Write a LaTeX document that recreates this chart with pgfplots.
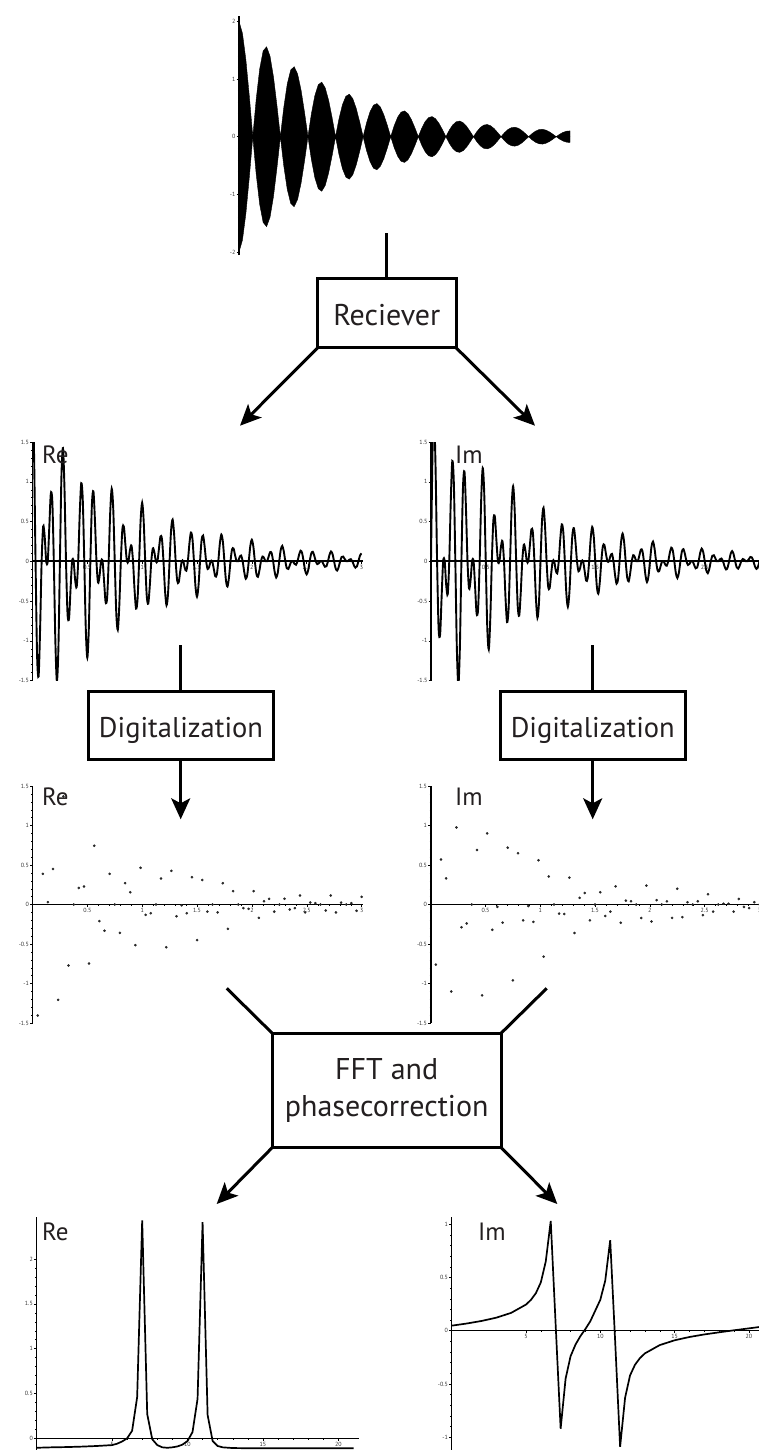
\documentclass[border=0pt]{standalone}
\usepackage{fontspec}
\setmainfont{PT Sans}
\usepackage{pgfplots}
\pgfplotsset{compat=1.18}
\usepackage{pgfplotstable}
\usetikzlibrary{arrows.meta}

\pgfplotstableread{
j e ne
0 2.000 -2.000
1 1.791 -1.791
2 1.329 -1.329
3 0.697 -0.697
4 0 0
5 0.655 -0.655
6 1.172 -1.172
7 1.485 -1.485
8 1.558 -1.558
9 1.395 -1.395
10 1.035 -1.035
11 0.543 -0.543
12 0 0
13 0.510 -0.510
14 0.913 -0.913
15 1.156 -1.156
16 1.213 -1.213
17 1.086 -1.086
18 0.806 -0.806
19 0.423 -0.423
20 0 0
21 0.397 -0.397
22 0.711 -0.711
23 0.901 -0.901
24 0.945 -0.945
25 0.846 -0.846
26 0.628 -0.628
27 0.329 -0.329
28 0 0
29 0.309 -0.309
30 0.554 -0.554
31 0.701 -0.701
32 0.736 -0.736
33 0.659 -0.659
34 0.489 -0.489
35 0.256 -0.256
36 0 0
37 0.241 -0.241
38 0.431 -0.431
39 0.546 -0.546
40 0.573 -0.573
41 0.513 -0.513
42 0.381 -0.381
43 0.200 -0.200
44 0 0
45 0.188 -0.188
46 0.336 -0.336
47 0.425 -0.425
48 0.446 -0.446
49 0.400 -0.400
50 0.296 -0.296
51 0.155 -0.155
52 0 0
53 0.146 -0.146
54 0.262 -0.262
55 0.331 -0.331
56 0.348 -0.348
57 0.311 -0.311
58 0.231 -0.231
59 0.121 -0.121
60 0 0
61 0.114 -0.114
62 0.204 -0.204
63 0.258 -0.258
64 0.271 -0.271
65 0.242 -0.242
66 0.180 -0.180
67 0.094 -0.094
68 0 0
69 0.089 -0.089
70 0.159 -0.159
71 0.201 -0.201
72 0.211 -0.211
73 0.189 -0.189
74 0.140 -0.140
75 0.073 -0.073
76 0 0
77 0.069 -0.069
78 0.124 -0.124
79 0.156 -0.156
80 0.164 -0.164
81 0.147 -0.147
82 0.109 -0.109
83 0.057 -0.057
84 0 0
85 0.054 -0.054
86 0.096 -0.096
87 0.122 -0.122
88 0.128 -0.128
89 0.114 -0.114
90 0.085 -0.085
91 0.045 -0.045
92 0 0
93 0.042 -0.042
94 0.075 -0.075
95 0.095 -0.095
96 0.100 -0.100
}\fid

\pgfplotstableread{
k re im
0 2.0 0
1 1.3736 1.3736
2 0 1.8279
3 -1.1748 1.1748
4 -1.4493 0
5 -0.8480 -0.8480
6 0 -0.9200
7 0.4389 -0.4389
8 0.3108 0
9 0 0
10 0 -0.3023
11 0.4151 -0.4151
12 0.8465 0
13 0.7589 0.7589
14 0 1.2613
15 -0.9944 0.9944
16 -1.5049 0
17 -1.0998 -1.0998
18 0 -1.5576
19 1.0697 -1.0697
20 1.4236 0
21 0.9149 0.9149
22 0 1.1287
23 -0.6604 0.6604
24 -0.7165 0
25 -0.3418 -0.3418
26 0 -0.2420
27 0 0
28 -0.2354 0
29 -0.3234 -0.3234
30 0 -0.6592
31 0.5910 -0.5910
32 0.9823 0
33 0.7744 0.7744
34 0 1.1720
35 -0.8565 0.8565
36 -1.2131 0
37 -0.8331 -0.8331
38 0 -1.1087
39 0.7126 -0.7126
40 0.8790 0
41 0.5143 0.5143
42 0 0.5580
43 -0.2662 0.2662
44 -0.1885 0
45 0 0
46 0 0.1833
47 -0.2518 0.2518
48 -0.5134 0
49 -0.4603 -0.4603
50 0 -0.7650
51 0.6032 -0.6032
52 0.9128 0
53 0.6671 0.6671
54 0 0.9447
55 -0.6488 0.6488
56 -0.8634 0
57 -0.5549 -0.5549
58 0 -0.6846
59 0.4006 -0.4006
60 0.4346 0
61 0.2073 0.2073
62 0 0.1468
63 0 0
64 0.1428 0
65 0.1961 0.1961
66 0 0.3999
67 -0.3584 0.3584
68 -0.5958 0
69 -0.4697 -0.4697
70 0 -0.7109
71 0.5195 -0.5195
72 0.7358 0
73 0.5053 0.5053
74 0 0.6724
75 -0.4322 0.4322
76 -0.5332 0
77 -0.3120 -0.3120
78 0 -0.3385
79 0.1614 -0.1614
80 0.1143 0
81 0 0
82 0 -0.1112
83 0.1527 -0.1527
84 0.3114 0
85 0.2792 0.2792
86 0 0.4640
87 -0.3659 0.3659
88 -0.5536 0
89 -0.4046 -0.4046
90 0 -0.5730
91 0.3935 -0.3935
92 0.5237 0
93 0.3366 0.3366
94 0 0.4152
95 -0.2430 0.2430
96 -0.2636 0
97 -0.1257 -0.1257
98 0 -0.0890
99 0 0
100 -0.0866 0
101 -0.1189 -0.1189
102 0 -0.2425
103 0.2174 -0.2174
104 0.3614 0
105 0.2849 0.2849
106 0 0.4312
107 -0.3151 0.3151
108 -0.4463 0
109 -0.3065 -0.3065
110 0 -0.4079
111 0.2621 -0.2621
112 0.3234 0
113 0.1892 0.1892
114 0 0.2053
115 -0.0979 0.0979
116 -0.0693 0
117 0 0
118 0 0.0674
119 -0.0926 0.0926
120 -0.1889 0
121 -0.1693 -0.1693
122 0 -0.2814
123 0.2219 -0.2219
124 0.3358 0
125 0.2454 0.2454
126 0 0.3476
127 -0.2386 0.2386
128 -0.3176 0
129 -0.2041 -0.2041
130 0 -0.2519
131 0.1474 -0.1474
132 0.1599 0
133 0.0763 0.0763
134 0 0.0540
135 0 0
136 0.0525 0
137 0.0721 0.0721
138 0 0.1471
139 -0.1319 0.1319
140 -0.2192 0
141 -0.1728 -0.1728
142 0 -0.2615
143 0.1911 -0.1911
144 0.2707 0
145 0.1859 0.1859
146 0 0.2474
147 -0.1590 0.1590
148 -0.1961 0
149 -0.1148 -0.1148
150 0 -0.1245
151 0.0594 -0.0594
152 0.0421 0
153 0 0
154 0 -0.0409
155 0.0562 -0.0562
156 0.1146 0
157 0.1027 0.1027
158 0 0.1707
159 -0.1346 0.1346
160 -0.2037 0
161 -0.1488 -0.1488
162 0 -0.2108
163 0.1447 -0.1447
164 0.1927 0
165 0.1238 0.1238
166 0 0.1528
167 -0.0894 0.0894
168 -0.0970 0
169 -0.0462 -0.0462
170 0 -0.0328
171 0 0
172 -0.0319 0
173 -0.0438 -0.0438
174 0 -0.0892
175 0.0800 -0.0800
176 0.1329 0
177 0.1048 0.1048
178 0 0.1586
179 -0.1159 0.1159
180 -0.1642 0
181 -0.1128 -0.1128
182 0 -0.1500
183 0.0965 -0.0965
184 0.1190 0
185 0.0697 0.0697
186 0 0.0755
187 -0.0360 0.0360
188 -0.0255 0
189 0 0
190 0 0.0248
191 -0.0341 0.0341
192 -0.0695 0
193 -0.0623 -0.0623
194 0 -0.1035
195 0.0816 -0.0816
196 0.1235 0
197 0.0903 0.0903
198 0 0.1279
199 -0.0878 0.0878
200 -0.1169 0
201 -0.0751 -0.0751
202 0 -0.0927
203 0.0542 -0.0542
204 0.0588 0
205 0.0281 0.0281
206 0 0.0199
207 0 0
208 0.0193 0
209 0.0265 0.0265
210 0 0.0541
211 -0.0485 0.0485
212 -0.0806 0
213 -0.0636 -0.0636
214 0 -0.0962
215 0.0703 -0.0703
216 0.0996 0
}\cont

\pgfplotstableread{
t y
0.046875 -1.405
0.09375 0.388
0.140625 0.03
0.1875 0.45
0.234375 -1.207
0.28125 1.368
0.328125 -0.772
0.375 0.0
0.421875 0.21
0.46875 0.228
0.515625 -0.747
0.5625 0.743
0.609375 -0.21
0.65625 -0.333
0.703125 0.388
0.75 0.0
0.796875 -0.359
0.84375 0.27
0.890625 0.156
0.9375 -0.515
0.984375 0.464
1.03125 -0.131
1.078125 -0.11
1.125 0.0
1.171875 0.329
1.21875 -0.54
1.265625 0.426
1.3125 -0.148
1.359375 -0.01
1.40625 -0.11
1.453125 0.346
1.5 -0.45
1.546875 0.31
1.59375 -0.09
1.640625 0.0
1.6875 -0.1
1.734375 0.27
1.78125 -0.308
1.828125 0.169
1.875 0.0
1.921875 -0.046
1.96875 -0.055
2.015625 0.169
2.0625 -0.169
2.109375 0.042
2.15625 0.072
2.203125 -0.09
2.25 0.0
2.296875 0.072
2.34375 -0.063
2.390625 -0.046
2.4375 0.114
2.484375 -0.1
2.53125 0.025
2.578125 0.017
2.625 0.0
2.671875 -0.076
2.71875 0.114
2.765625 -0.1
2.8125 0.025
2.859375 0.0
2.90625 0.017
2.953125 -0.08
3.0 0.097
}\redig

\pgfplotstableread{
t y
0.046875 -0.76
0.09375 0.57
0.140625 0.33
0.1875 -1.10
0.234375 0.975
0.28125 -0.287
0.328125 -0.24
0.375 0.0
0.421875 0.69
0.46875 -1.15
0.515625 0.90
0.5625 -0.32
0.609375 -0.03
0.65625 -0.23
0.703125 0.72
0.75 -0.96
0.796875 0.65
0.84375 -0.20
0.890625 -0.02
0.9375 -0.22
0.984375 0.56
1.03125 -0.66
1.078125 0.355
1.125 0.0
1.171875 -0.115
1.21875 -0.12
1.265625 0.34
1.3125 -0.36
1.359375 0.085
1.40625 0.145
1.453125 -0.20
1.5 0.0
1.546875 0.155
1.59375 -0.145
1.640625 -0.09
1.6875 0.23
1.734375 -0.23
1.78125 0.05
1.828125 0.04
1.875 0.0
1.921875 -0.17
1.96875 0.24
2.015625 -0.215
2.0625 0.055
2.109375 0.0
2.15625 0.04
2.203125 -0.17
2.25 0.20
2.296875 -0.16
2.34375 0.03
2.390625 0.0
2.4375 0.04
2.484375 -0.135
2.53125 0.13
2.578125 -0.09
2.625 0.0
2.671875 0.01
2.71875 0.01
2.765625 -0.09
2.8125 0.07
2.859375 -0.03
2.90625 -0.045
2.953125 0.03
3.0 0.0
}\imdig

\pgfplotstableread{
x y
0 -0.105
1 -0.100
2 -0.097
3 -0.092
4 -0.085
5 -0.075
5.333 -0.060
5.667 -0.035
6 0.000
6.333 0.085
6.667 0.46
7 2.43
7.333 0.27
7.667 -0.01
8 -0.075
8.333 -0.100
8.667 -0.105
9 -0.100
9.333 -0.090
9.667 -0.070
10 -0.030
10.333 0.070
10.667 0.44
11 2.41
11.333 0.26
11.667 -0.03
12 -0.085
12.333 -0.100
13 -0.108
14 -0.110
15 -0.110
16 -0.110
17 -0.110
18 -0.110
19 -0.110
20 -0.110
21 -0.110
}\respec

\pgfplotstableread{
x y
0 0.047
1 0.067
2 0.091
3 0.122
4 0.167
5 0.245
5.333 0.289
5.667 0.352
6 0.453
6.333 0.65
6.667 1.03
7 0.05
7.333 -0.92
7.667 -0.45
8 -0.24
8.333 -0.13
8.667 -0.05
9 0.016
9.333 0.09
9.667 0.19
10 0.29
10.333 0.47
10.667 0.85
11 -0.1
11.333 -1.09
11.667 -0.63
12 -0.42
12.333 -0.32
12.667 -0.257
13 -0.213
14 -0.135
15 -0.09
16 -0.059
17 -0.035
18 -0.015
19 0.004
20 0.022
21 0.040
}\imspec

\pgfplotsset{
  base/.style={
    scale only axis,
    anchor=south west,
    axis lines=middle,
    axis line style={-, line width=1.6pt},
    enlargelimits=false,
    clip=true,
    tick align=outside,
    major tick length=2.5pt,
    minor tick length=1.2pt,
    tick style={black, line width=0.4pt},
    ticklabel style={font=\fontsize{6}{7}\selectfont, text=black!80, inner sep=1pt},
    /pgf/number format/assume math mode=true,
    hide obscured y ticks=false,
  },
}
\definecolor{txt}{HTML}{231F20}
\tikzset{
  lbl/.style={font=\fontsize{25}{28}\selectfont, anchor=base west, inner sep=0pt, text=txt},
  box/.style={font=\fontsize{30}{36}\selectfont, inner sep=0pt, text=txt},
  fl/.style={line width=3pt, black},
  arr/.style={fl, -{Stealth[length=21pt,width=19pt,inset=5pt]}},
}

\begin{document}
\begin{tikzpicture}
\path[use as bounding box] (0pt,0pt) rectangle (758pt,-1450pt);

% FID
\begin{axis}[base, at={(239pt,-255pt)}, width=331pt, height=239.5pt,
  xmin=0, xmax=96, ymin=-2.05, ymax=2.1, xtick=\empty,
  ytick={-2,-1,0,1,2}, minor y tick num=4]
\addplot[draw=black, fill=black, line width=0.4pt] table[x=j,y=e]{\fid} \closedcycle;
\addplot[draw=black, fill=black, line width=0.4pt] table[x=j,y=ne]{\fid} \closedcycle;
\end{axis}

% continuous Re
\begin{axis}[base, at={(32.5pt,-680.5pt)}, width=330.5pt, height=238.5pt,
  xmin=0, xmax=217, ymin=-1.5, ymax=1.5,
  xtick={36,72,108,144,180,216}, xticklabels={0.5,1,1.5,2,2.5,3},
  ytick={-1.5,-1,-0.5,0,0.5,1,1.5}, minor y tick num=4, minor x tick num=4]
\addplot[smooth, line width=1.9pt] table[x=k,y=re]{\cont};
\end{axis}

% continuous Im
\begin{axis}[base, at={(431pt,-680.5pt)}, width=330pt, height=238.5pt,
  xmin=0, xmax=217, ymin=-1.5, ymax=1.5,
  xtick={36,72,108,144,180,216}, xticklabels={0.5,1,1.5,2,2.5,3},
  ytick={-1.5,-1,-0.5,0,0.5,1,1.5}, minor y tick num=4, minor x tick num=4]
\addplot[smooth, line width=1.9pt] table[x=k,y=im]{\cont};
\end{axis}

% digitized Re
\begin{axis}[base, at={(32.5pt,-1023pt)}, width=330.5pt, height=237pt,
  xmin=0, xmax=3.012, ymin=-1.5, ymax=1.5,
  xtick={0.5,1,1.5,2,2.5,3},
  ytick={-1.5,-1,-0.5,0,0.5,1,1.5}, minor y tick num=4, minor x tick num=4]
\addplot[only marks, mark=*, mark size=1.1pt, black!85] table[x=t,y=y]{\redig};
\end{axis}

% digitized Im
\begin{axis}[base, at={(430.7pt,-1023pt)}, width=330pt, height=237pt,
  xmin=0, xmax=3.012, ymin=-1.5, ymax=1.5,
  xtick={0.5,1,1.5,2,2.5,3},
  ytick={-1.5,-1,-0.5,0,0.5,1,1.5}, minor y tick num=4, minor x tick num=4]
\addplot[only marks, mark=*, mark size=1.1pt, black!85] table[x=t,y=y]{\imdig};
\end{axis}

% Re spectrum
\begin{axis}[base, at={(36.5pt,-1451.8pt)}, width=322.5pt, height=235pt,
  xmin=0, xmax=21.36, ymin=-0.15, ymax=2.47,
  xtick={5,10,15,20}, ytick={0,0.5,1,1.5,2},
  minor y tick num=4, minor x tick num=4]
\addplot[line width=1.7pt] table[x=x,y=y]{\respec};
\end{axis}

% Im spectrum
\begin{axis}[base, at={(451.6pt,-1458.5pt)}, width=317.6pt, height=241.8pt,
  xmin=0, xmax=21.36, ymin=-1.2, ymax=1.07,
  xtick={5,10,15,20}, ytick={-1,-0.5,0,0.5,1},
  minor y tick num=4, minor x tick num=4]
\addplot[line width=1.7pt] table[x=x,y=y]{\imspec};
\end{axis}

% labels
\node[lbl] at (42pt,-463.3pt) {Re};
\node[lbl] at (455pt,-463.3pt) {Im};
\node[lbl] at (42pt,-805pt) {Re};
\node[lbl] at (455pt,-805pt) {Im};
\node[lbl] at (42pt,-1240pt) {Re};
\node[lbl] at (478pt,-1240pt) {Im};

% flow chart
\draw[fl] (386.7pt,-233pt) -- (386.7pt,-278.3pt);
\draw[fl] (317.7pt,-278.3pt) rectangle (456pt,-347.7pt);
\node[box, anchor=base] at (386.8pt,-325pt) {Reciever};
\draw[arr] (317.7pt,-347.7pt) -- (240pt,-425.7pt);
\draw[arr] (456pt,-347.7pt) -- (535pt,-425.7pt);

\draw[fl] (180.7pt,-645pt) -- (180.7pt,-691pt);
\draw[fl] (88.7pt,-691pt) rectangle (273.3pt,-759.3pt);
\node[box, anchor=base, font=\fontsize{28.5}{34}\selectfont] at (181pt,-737pt) {Digitalization};
\draw[arr] (180.7pt,-759.3pt) -- (180.7pt,-819.3pt);

\draw[fl] (592.7pt,-645pt) -- (592.7pt,-691pt);
\draw[fl] (500.7pt,-691pt) rectangle (685pt,-759.3pt);
\node[box, anchor=base, font=\fontsize{28.5}{34}\selectfont] at (592.8pt,-737pt) {Digitalization};
\draw[arr] (592.7pt,-759.3pt) -- (592.7pt,-819.3pt);

\draw[fl] (226.7pt,-988.3pt) -- (272.3pt,-1033.3pt);
\draw[fl] (546.7pt,-988.3pt) -- (501pt,-1033.3pt);
\draw[fl] (272.3pt,-1033.3pt) rectangle (501pt,-1147.5pt);
\node[box, anchor=base] at (386.7pt,-1079.3pt) {FFT and};
\node[box, anchor=base] at (386.7pt,-1116.7pt) {phasecorrection};
\draw[arr] (272.3pt,-1147.5pt) -- (216.7pt,-1204pt);
\draw[arr] (501pt,-1147.5pt) -- (557.3pt,-1204pt);
\end{tikzpicture}
\end{document}
